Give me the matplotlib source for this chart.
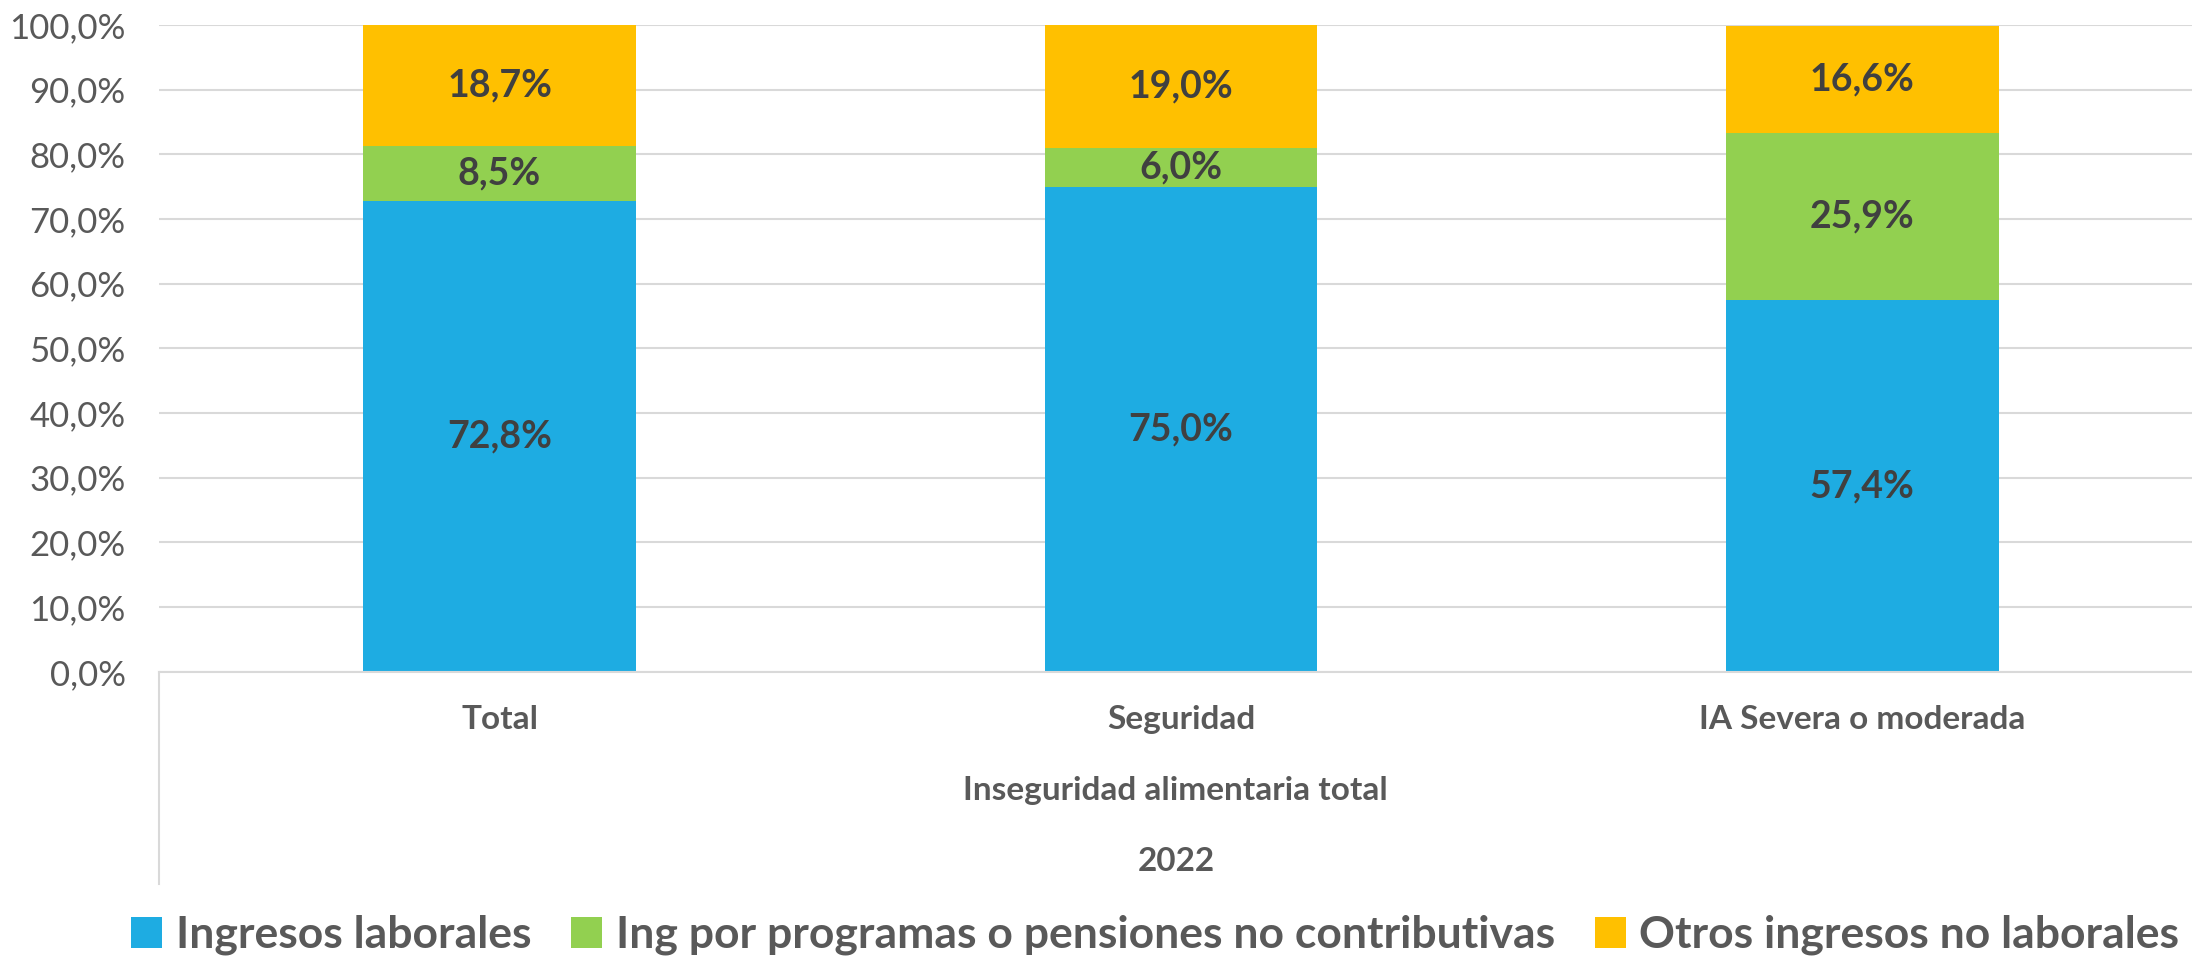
import numpy as np
import matplotlib.pyplot as plt
from matplotlib.transforms import blended_transform_factory

categorias = ["Total", "Seguridad", "IA Severa o moderada"]
grupo = "Inseguridad alimentaria total"
anio = "2022"
series = ["Ingresos laborales", "Ing por programas o pensiones no contributivas", "Otros ingresos no laborales"]
laborales = [72.8, 75.0, 57.4]
programas = [8.5, 6.0, 25.9]
otros = [18.7, 19.0, 16.6]
colores = ["#1EACE2", "#92D050", "#FFC000"]

plt.rcParams["font.family"] = ["Lato", "DejaVu Sans"]

figure = plt.figure(figsize=(21.92, 9.57), dpi=100)
axes = figure.add_axes([0.0725, 0.298, 0.9325, 0.676])

x = np.arange(len(categorias))
bottom = np.zeros(len(categorias))
for nombre, valores, color in zip(series, [laborales, programas, otros], colores):
    valores = np.array(valores)
    axes.bar(x, valores, 0.4, bottom=bottom, color=color, label=nombre, zorder=2)
    for xi, b, v in zip(x, bottom, valores):
        axes.text(xi, b + v / 2, "{:.1f}%".format(v).replace(".", ","), ha="center", va="center",
                  fontsize=27, fontweight="bold", color="#404040", zorder=3)
    bottom += valores

axes.set_xlim(-0.5, 2.5)
axes.set_ylim(0, 100)
axes.set_yticks(np.arange(0, 101, 10))
axes.set_yticklabels(["{:.1f}%".format(t).replace(".", ",") for t in np.arange(0, 101, 10)],
                     fontsize=25, color="#595959")
axes.set_xticks(x)
axes.set_xticklabels(categorias, fontsize=24, fontweight="bold", color="#595959")
axes.tick_params(axis="both", length=0)
axes.tick_params(axis="x", pad=24)
axes.tick_params(axis="y", pad=24)
axes.grid(axis="y", color="#D9D9D9", linewidth=1.5, zorder=0)
for lado in ["top", "right", "left"]:
    axes.spines[lado].set_visible(False)
axes.spines["bottom"].set_color("#D9D9D9")
axes.spines["bottom"].set_linewidth(1.5)

trans = blended_transform_factory(axes.transAxes, axes.transAxes)
axes.plot([0, 0], [0, -0.328], transform=trans, color="#D9D9D9", linewidth=1.5, clip_on=False)
axes.text(0.4975, -0.183, grupo, transform=trans, ha="center", va="center",
          fontsize=24, fontweight="bold", color="#595959")
axes.text(0.4975, -0.293, anio, transform=trans, ha="center", va="center",
          fontsize=24, fontweight="bold", color="#595959")

figure.legend(loc="center", bbox_to_anchor=(0.527, 0.023), ncol=3, frameon=False,
              handlelength=0.7, handleheight=0.7, handletextpad=0.3,
              columnspacing=0.9, labelcolor="#595959", prop={"weight": "bold", "size": 32})

figure.savefig("out.png")
